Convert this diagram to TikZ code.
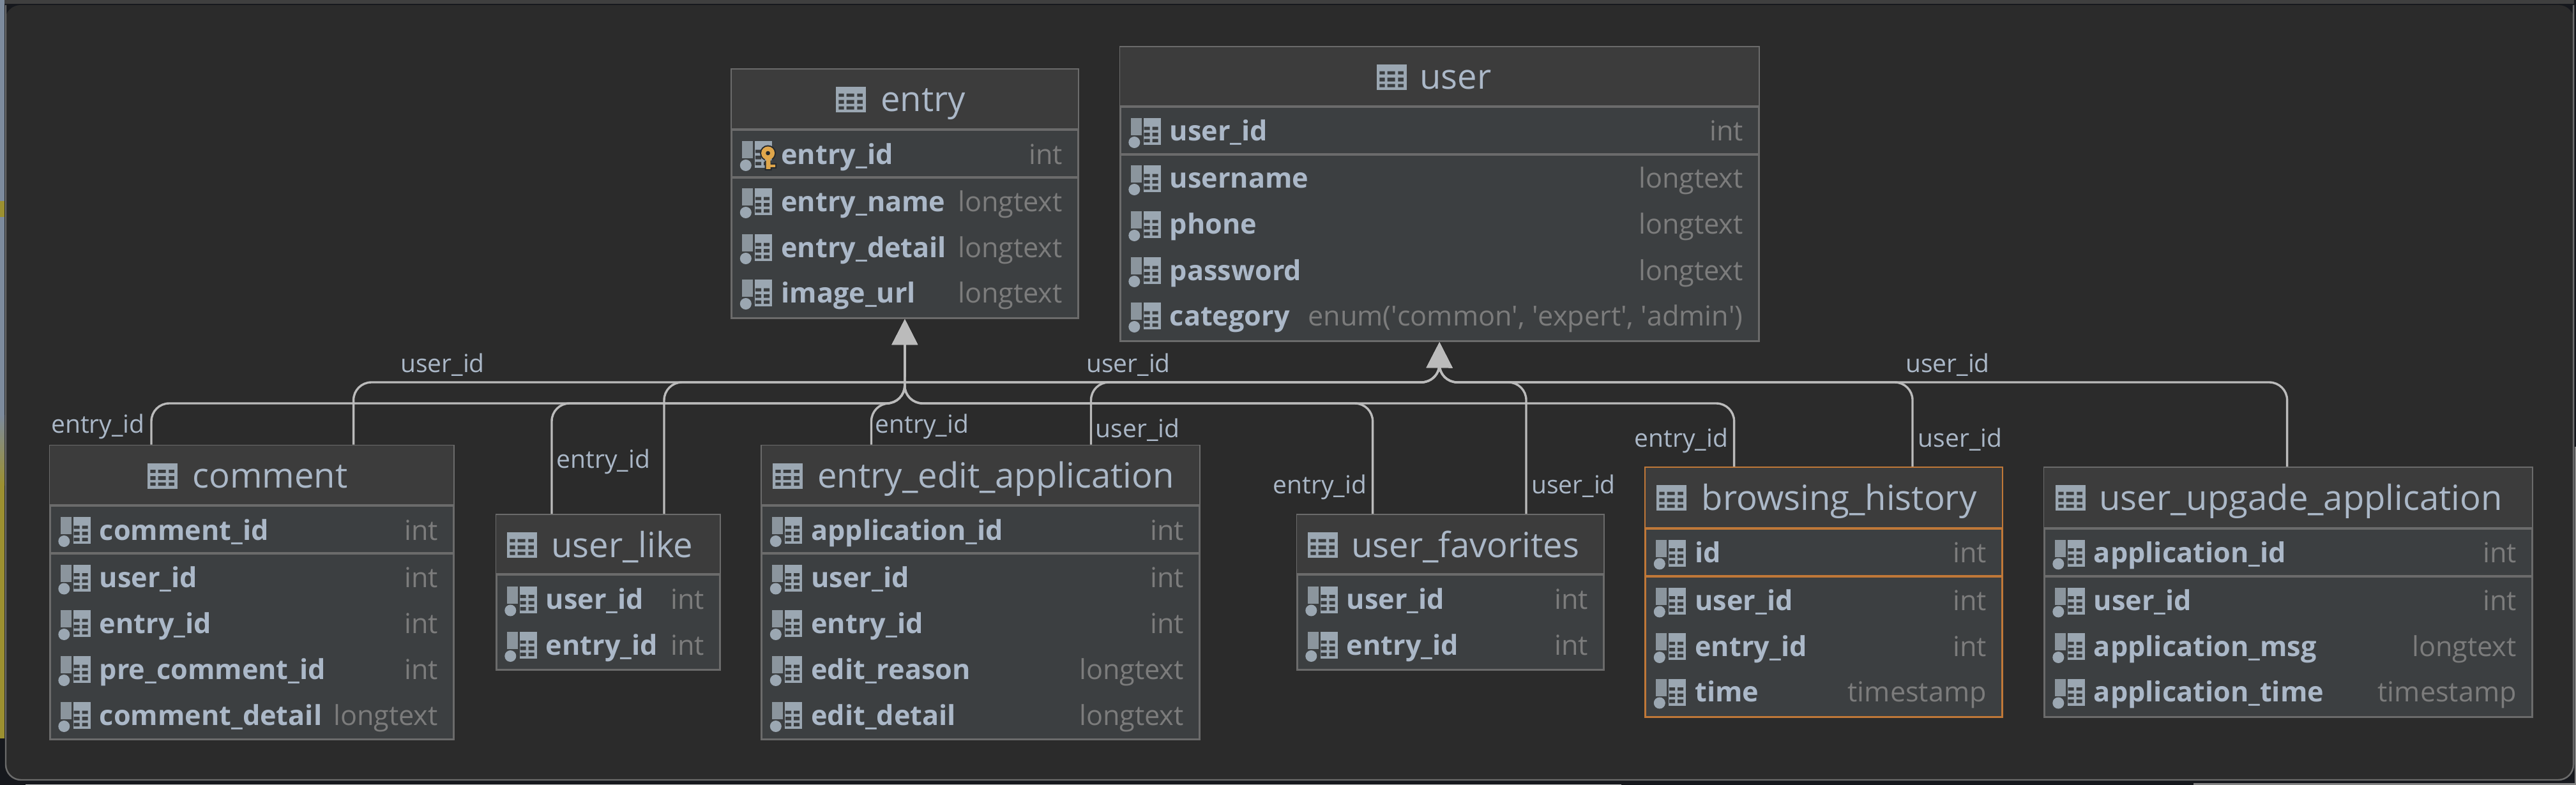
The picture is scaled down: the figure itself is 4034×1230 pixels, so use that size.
\documentclass[tikz,border=0pt]{standalone}
\usepackage{fontspec}
\setmainfont{Open Sans}
\usetikzlibrary{arrows.meta}
%
\tikzset{
  dbbox/.style={rectangle,anchor=north west,inner sep=0pt,line width=.8pt,fill=col_row},
  dbrule/.style={line width=1pt},
  fkedge/.style={draw=col_edge,line width=.85pt,rounded corners=7pt,-{Triangle[length=10pt,width=10pt]}},
  fklabel/.style={anchor=base,inner sep=0pt,text=col_lab,font=\fontsize{9.75}{12}\selectfont},
  dbtitle/.style={anchor=base west,inner sep=0pt,text=col_lab,font=\fontsize{13.6}{15}\selectfont},
  colname/.style={anchor=base west,inner sep=0pt,text=col_lab,font=\fontsize{10.8}{13}\selectfont\bfseries},
  coltype/.style={anchor=base east,inner sep=0pt,text=col_type,font=\fontsize{10.8}{13}\selectfont},
  dbicon/.pic={
    \fill[col_icon] (0,0) rectangle (47,40);
    \fill[col_cell] (4.7,10.7) rectangle (13,15.7) (17,10.7) rectangle (29,15.7) (33.7,10.7) rectangle (42.3,15.7);
    \fill[col_cell] (4.7,20.7) rectangle (13,26.7) (17,20.7) rectangle (29,26.7) (33.7,20.7) rectangle (42.3,26.7);
    \fill[col_cell] (4.7,30.7) rectangle (13,35.7) (17,30.7) rectangle (29,35.7) (33.7,30.7) rectangle (42.3,35.7);
  },
  colicon/.pic={
    \fill[col_bar] (0,0) rectangle (17,27);
    \fill[col_icon] (5.7,38) circle (9);
    \fill[col_icon] (20,0) rectangle (47,42);
    \fill[col_cell] (21,13.7) rectangle (30,18.7) (34,13.7) rectangle (43,18.7);
    \fill[col_cell] (21,23) rectangle (30,28.7) (34,23) rectangle (43,28.7);
    \fill[col_cell] (21,32.7) rectangle (30,38) (34,32.7) rectangle (43,38);
  },
  keyicon/.pic={
    \fill[col_halo] (40.5,19) circle (12.5) (35.5,25) rectangle (46.5,46) (46.5,35) rectangle (54,43);
    \fill[col_key] (37.5,25) rectangle (44.5,44) (44.5,37) rectangle (52,41);
    \fill[col_key,even odd rule] (40.5,19) circle (10.5) (40.5,19) circle (3.5);
  }
}
%
\newcommand*{\BoxLineColor}{col_line}
\newcommand{\DbBox}[9]{
  \node[dbbox,draw=\BoxLineColor,minimum width={(#4-#2)*0.25pt},minimum height={(#5-#3)*0.25pt}] (#1) at ({#2},{#3}) {};
  \fill[col_head] ([xshift=.4pt,yshift=-.4pt]#1.north west) rectangle ([xshift=-.4pt]#1.east |- 0,#6);
  \draw[dbrule,\BoxLineColor] (#1.west |- 0,#6) -- (#1.east |- 0,#6);
  \pic at ({#7},{#3+29}) {dbicon};
  \node[dbtitle] (#1_title) at ({#8},{#3+68}) {#9};
}
\newcommand{\DbRule}[2]{
  \draw[dbrule,\BoxLineColor] (#1.west |- 0,#2) -- (#1.east |- 0,#2);
}
\newcommand{\DbCol}[6]{
  \pic at ({#2+18},{#4}) {colicon};
  \node[colname] (#1_n) at ({#2+78.5},{#4+36}) {#5};
  \node[coltype] (#1_t) at ({#3-22},{#4+36}) {#6};
}
%
\begin{document}
\begin{tikzpicture}[x=0.25pt,y=-0.25pt]
%
\definecolor{col_bg}{HTML}{2B2B2B}
\definecolor{col_head}{HTML}{3C3C3C}
\definecolor{col_row}{HTML}{3C3F41}
\definecolor{col_line}{HTML}{6B6B6B}
\definecolor{col_hist}{HTML}{C07838}
\definecolor{col_edge}{HTML}{BBBBBB}
\definecolor{col_lab}{HTML}{ABB8C8}
\definecolor{col_type}{HTML}{7C7C7C}
\definecolor{col_icon}{HTML}{9BA7B2}
\definecolor{col_bar}{HTML}{8B959D}
\definecolor{col_cell}{HTML}{3A3D3F}
\definecolor{col_key}{HTML}{DFA64B}
\definecolor{col_halo}{HTML}{24282C}
\definecolor{col_out}{HTML}{16181D}
\definecolor{col_steel}{HTML}{7D8B9D}
\definecolor{col_olive}{HTML}{9C9030}
\definecolor{col_pale}{HTML}{BDBDBD}
\definecolor{col_top}{HTML}{3F3F3F}
%
\useasboundingbox (0,0) rectangle (4034,1230);
\fill[col_out] (0,0) rectangle (4034,1230);
\fill[col_steel] (0,0) rectangle (7,670);
\shade[top color=col_steel,bottom color=col_olive] (0,650) rectangle (7,760);
\fill[col_olive] (0,760) rectangle (7,1157);
\fill[col_olive] (0,315) rectangle (7,340);
\fill[col_pale] (40,1228.5) rectangle (2539,1230);
\fill[col_pale!70!black] (3435,1227) rectangle (4034,1230) (4032,700) rectangle (4034,1230);
\fill[col_top] (7,0) rectangle (4031,6);
\fill[col_bg,rounded corners=6pt] (8,8) -- (8,1223) -- (4031,1223) -- (4031,8) -- cycle;
\draw[col_line,line width=.6pt,rounded corners=6pt] (9,8) -- (9,1222) -- (4030,1222) -- (4030,8);
%
% tables
%
\begin{scope}[xshift=-.35pt]
\DbBox{entry}{1145.5}{107}{1688}{497}{203}{1310}{1380}{entry}
\DbRule{entry}{278}
\DbCol{entry_1}{1145.5}{1688}{221}{entry\_id}{int}
\pic at (1163.5,221) {keyicon};
\DbCol{entry_2}{1145.5}{1688}{295}{entry\_name}{longtext}
\DbCol{entry_3}{1145.5}{1688}{367}{entry\_detail}{longtext}
\DbCol{entry_4}{1145.5}{1688}{438}{image\_url}{longtext}
%
\DbBox{user}{1754}{72}{2754}{533}{167}{2157}{2224}{user}
\DbRule{user}{242}
\DbCol{user_1}{1754}{2754}{185}{user\_id}{int}
\DbCol{user_2}{1754}{2754}{259}{username}{longtext}
\DbCol{user_3}{1754}{2754}{331}{phone}{longtext}
\DbCol{user_4}{1754}{2754}{403}{password}{longtext}
\DbCol{user_5}{1754}{2754}{474}{category}{enum(\textquotesingle common\textquotesingle, \textquotesingle expert\textquotesingle, \textquotesingle admin\textquotesingle)}
%
\DbBox{comment}{78}{696.5}{710}{1157}{792}{232}{302}{comment}
\DbRule{comment}{867}
\DbCol{comment_1}{78}{710}{810}{comment\_id}{int}
\DbCol{comment_2}{78}{710}{884.5}{user\_id}{int}
\DbCol{comment_3}{78}{710}{956}{entry\_id}{int}
\DbCol{comment_4}{78}{710}{1028}{pre\_comment\_id}{int}
\DbCol{comment_5}{78}{710}{1100}{comment\_detail}{longtext}
%
\DbBox{like}{777}{805}{1127}{1048}{900}{795}{864}{user\_like}
\DbCol{like_1}{777}{1127}{918.5}{user\_id}{int}
\DbCol{like_2}{777}{1127}{990}{entry\_id}{int}
%
\DbBox{edit}{1192.5}{696.5}{1878}{1157}{792}{1211}{1281}{entry\_edit\_application}
\DbRule{edit}{867}
\DbCol{edit_1}{1192.5}{1878}{810}{application\_id}{int}
\DbCol{edit_2}{1192.5}{1878}{884.5}{user\_id}{int}
\DbCol{edit_3}{1192.5}{1878}{956}{entry\_id}{int}
\DbCol{edit_4}{1192.5}{1878}{1028}{edit\_reason}{longtext}
\DbCol{edit_5}{1192.5}{1878}{1100}{edit\_detail}{longtext}
%
\DbBox{fav}{2031}{805}{2511}{1048}{900}{2049}{2117}{user\_favorites}
\DbCol{fav_1}{2031}{2511}{918.5}{user\_id}{int}
\DbCol{fav_2}{2031}{2511}{990}{entry\_id}{int}
%
\renewcommand*{\BoxLineColor}{col_hist}
\DbBox{hist}{2576.5}{731}{3135}{1121.5}{828}{2595}{2665.5}{browsing\_history}
\DbRule{hist}{903}
\DbCol{hist_1}{2576.5}{3135}{845.5}{id}{int}
\DbCol{hist_2}{2576.5}{3135}{920.5}{user\_id}{int}
\DbCol{hist_3}{2576.5}{3135}{992}{entry\_id}{int}
\DbCol{hist_4}{2576.5}{3135}{1063.5}{time}{timestamp}
\renewcommand*{\BoxLineColor}{col_line}
%
\DbBox{upg}{3201}{731}{3965}{1121.5}{828}{3220}{3288}{user\_upgade\_application}
\DbRule{upg}{903}
\DbCol{upg_1}{3201}{3965}{845.5}{application\_id}{int}
\DbCol{upg_2}{3201}{3965}{920.5}{user\_id}{int}
\DbCol{upg_3}{3201}{3965}{992}{application\_msg}{longtext}
\DbCol{upg_4}{3201}{3965}{1063.5}{application\_time}{timestamp}
\end{scope}
%
% foreign keys
%
\coordinate (entry_bus) at (1416.7,632);
\coordinate (user_bus) at (2254,599);
%
\coordinate (comment_e) at (237,696.5);
\coordinate (comment_u) at (553.6,696.5);
\coordinate (like_e) at (864,805);
\coordinate (like_u) at (1040,805);
\coordinate (edit_e) at (1364.5,696.5);
\coordinate (edit_u) at (1708.5,696.5);
\coordinate (fav_e) at (2149.6,805);
\coordinate (fav_u) at (2390,805);
\coordinate (hist_e) at (2715.6,731);
\coordinate (hist_u) at (2995,731);
\coordinate (upg_u) at (3581.6,731);
%
\draw[fkedge] (comment_e) |- (entry_bus) -- (entry.south);
\draw[fkedge] (like_e) |- (entry_bus) -- (entry.south);
\draw[fkedge] (edit_e) |- (entry_bus) -- (entry.south);
\draw[fkedge] (fav_e) |- (entry_bus) -- (entry.south);
\draw[fkedge] (hist_e) |- (entry_bus) -- (entry.south);
%
\draw[fkedge] (comment_u) |- (user_bus) -- (user.south);
\draw[fkedge] (like_u) |- (user_bus) -- (user.south);
\draw[fkedge] (edit_u) |- (user_bus) -- (user.south);
\draw[fkedge] (fav_u) |- (user_bus) -- (user.south);
\draw[fkedge] (hist_u) |- (user_bus) -- (user.south);
\draw[fkedge] (upg_u) |- (user_bus) -- (user.south);
%
\node[fklabel] (lab_comment_e) at (153.5,678) {entry\_id};
\node[fklabel] (lab_comment_u) at (693,583) {user\_id};
\node[fklabel] (lab_like_e) at (945,733) {entry\_id};
\node[fklabel] (lab_edit_e) at (1444,678) {entry\_id};
\node[fklabel] (lab_edit_u) at (1781.6,685) {user\_id};
\node[fklabel] (lab_mid_u) at (1767,583) {user\_id};
\node[fklabel] (lab_fav_e) at (2067,773) {entry\_id};
\node[fklabel] (lab_fav_u) at (2464,773) {user\_id};
\node[fklabel] (lab_hist_e) at (2633,700) {entry\_id};
\node[fklabel] (lab_hist_u) at (3069.6,700) {user\_id};
\node[fklabel] (lab_upg_u) at (3050,583) {user\_id};
%
\end{tikzpicture}
\end{document}
